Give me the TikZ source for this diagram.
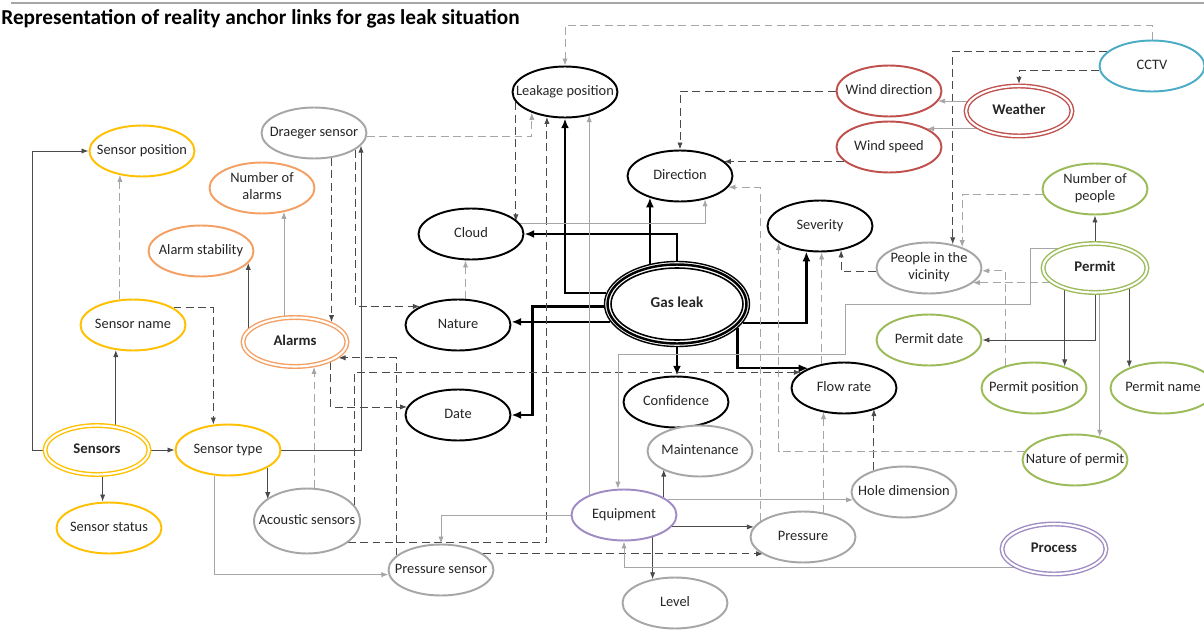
\documentclass[tikz,border=0pt]{standalone}
\usepackage{fontspec}
\setmainfont{Carlito}
\usetikzlibrary{shapes.geometric,arrows.meta,backgrounds}
\definecolor{cyel}{HTML}{FFC000}
\definecolor{corg}{RGB}{244,160,100}
\definecolor{cred}{HTML}{C0504D}
\definecolor{cblu}{HTML}{4BACC6}
\definecolor{cgrn}{HTML}{9BBB59}
\definecolor{cpur}{RGB}{160,140,195}
\definecolor{cgry}{HTML}{A6A6A6}
\definecolor{cdark}{HTML}{4A4A4A}
\definecolor{clight}{HTML}{A6A6A6}
\newcommand\lbl[1]{\makebox[0pt]{\begin{tabular}{@{}c@{}}#1\end{tabular}}}
\begin{document}
\begin{tikzpicture}[x=0.02cm,y=-0.02cm,
  nd/.style={ellipse, draw, fill=white, inner sep=0pt, line width=1.1pt,
    minimum width=2.1cm, minimum height=1.02cm,
    font=\fontsize{8.2}{9.6}\selectfont, text=black!85},
  nblk/.style={nd, draw=black},
  nyel/.style={nd, draw=cyel},
  norg/.style={nd, draw=corg},
  nred/.style={nd, draw=cred},
  nblu/.style={nd, draw=cblu},
  ngrn/.style={nd, draw=cgrn},
  ngry/.style={nd, draw=cgry},
  npur/.style={nd, draw=cpur},
  dbl/.style={double=white, double distance=1.2pt, line width=0.8pt, outer sep=1.2pt,
    minimum width=2.08cm, minimum height=0.98cm,
    font=\fontsize{8.4}{9.6}\selectfont\bfseries},
  gasst/.style={ellipse, draw=black, fill=white, inner sep=0pt, line width=0.8pt,
    minimum width=2.9cm, minimum height=1.7cm,
    font=\fontsize{8.6}{9.6}\selectfont\bfseries, text=black!85},
  ln/.style={line width=0.5pt, -{Latex[length=4pt,width=3pt]}},
  cd/.style={ln, draw=cdark},
  cl/.style={ln, draw=clight},
  dd/.style={ln, draw=cdark, dash pattern=on 4.5pt off 2.5pt},
  dl/.style={ln, draw=clight, dash pattern=on 4.5pt off 2.5pt},
  thk/.style={line width=1.3pt, draw=black, -{Latex[length=5.5pt,width=4.5pt]}},
]
\useasboundingbox (0,0) rectangle (1204,639);

% title
\node[anchor=base west, inner sep=0pt, font=\fontsize{12.1}{14}\selectfont\bfseries] (title) at (1,25)
  {Representation of reality anchor links for gas leak situation};
\draw[cgry, line width=0.6pt] (11,3) -- (1204,3);

% central nodes
\node[gasst] (gas) at (677,304) {\lbl{Gas leak}};
\draw[line width=1.4pt] (gas.center) ellipse [x radius=1.39cm, y radius=0.79cm];
\draw[line width=0.9pt] (gas.center) ellipse [x radius=1.32cm, y radius=0.72cm];
\node[nblk] (lpos) at (565,92) {\lbl{Leakage position}};
\node[nblk] (dir) at (680,176) {\lbl{Direction}};
\node[nblk] (cloud) at (471,234) {\lbl{Cloud}};
\node[nblk] (nature) at (458,325) {\lbl{Nature}};
\node[nblk] (date) at (458,415) {\lbl{Date}};
\node[nblk] (sev) at (820,226) {\lbl{Severity}};
\node[nblk] (conf) at (676,402) {\lbl{Confidence}};
\node[nblk] (flow) at (844,388) {\lbl{Flow rate}};

% equipment group
\node[ngry] (maint) at (700,451) {\lbl{Maintenance}};
\node[npur] (equip) at (624,515) {\lbl{Equipment}};
\node[ngry] (press) at (803,537) {\lbl{Pressure}};
\node[ngry] (hole) at (904,492) {\lbl{Hole dimension}};
\node[ngry] (level) at (675,603) {\lbl{Level}};
\node[ngry] (psens) at (441,570) {\lbl{Pressure sensor}};
\node[ngry, minimum height=1.3cm, minimum width=2.12cm] (acou) at (307,521) {\lbl{Acoustic sensors}};
\node[npur, dbl, minimum height=1.0cm] (process) at (1054,549) {\lbl{Process}};

% sensors group
\node[nyel, dbl] (sens) at (97,450) {\lbl{Sensors}};
\node[nyel] (stype) at (228,450) {\lbl{Sensor type}};
\node[nyel] (sstat) at (109,528) {\lbl{Sensor status}};
\node[nyel] (sname) at (133,325) {\lbl{Sensor name}};
\node[nyel] (spos) at (142,151) {\lbl{Sensor position}};
\node[ngry] (draeger) at (314,133) {\lbl{Draeger sensor}};

% alarms group
\node[norg] (nalarm) at (262,188) {\lbl{Number of\\alarms}};
\node[norg] (astab) at (201,251) {\lbl{Alarm stability}};
\node[norg, dbl] (alarms) at (295,342) {\lbl{Alarms}};

% weather group
\node[nred] (wdir) at (889,91) {\lbl{Wind direction}};
\node[nred] (wspd) at (889,147) {\lbl{Wind speed}};
\node[nred, dbl, minimum width=2.12cm, minimum height=1.0cm] (weather) at (1019,111) {\lbl{Weather}};
\node[nblu] (cctv) at (1152,66) {\lbl{CCTV}};

% permit group
\node[ngrn] (npeople) at (1095,189) {\lbl{Number of\\people}};
\node[ngry] (people) at (929,268) {\lbl{People in the\\vicinity}};
\node[ngrn, dbl] (permit) at (1095,268) {\lbl{Permit}};
\node[ngrn] (pdate) at (929,340) {\lbl{Permit date}};
\node[ngrn] (ppos) at (1034,388) {\lbl{Permit position}};
\node[ngrn] (pname) at (1163,388) {\lbl{Permit name}};
\node[ngrn] (nperm) at (1075,460) {\lbl{Nature of permit}};

\begin{pgfonlayer}{background}
\fill[white] (0,0) rectangle (1204,639);
% thick links from gas leak
\draw[thk] (gas.124) -- (gas.124 |- dir.-145);
\draw[thk] (gas.north) |- (cloud.east);
\draw[thk] (gas.171) -| (lpos.south);
\draw[thk] (gas.182) -- ++(-71.5,0) |- (date.east);
\draw[thk] (gas.195) -- (gas.195 -| nature.east);
\draw[thk] (gas.south) -- (gas.south |- conf.north);
\draw[thk] (gas.-16) -| (sev.-118);
\draw[thk] (gas.-22) |- (flow.151);

% dark dashed
\draw[dd] (lpos.-168) -- (lpos.-168 |- cloud.15);
\draw[dd] (acou.-28) -| (lpos.-126);
\draw[dd] (wdir.west) -| (dir.north);
\draw[dd] (wspd.-162) -- (wspd.-162 -| dir.19);
\draw[dd] (draeger.-55) -- (draeger.-55 |- alarms.29);
\draw[dd] (draeger.-22) |- (nature.154);
\draw[dd] (psens.162) |- (alarms.-20);
\draw[dd] (psens.21) -- (psens.21 -| press.-156);
\draw[dd] (alarms.-29) |- (date.171);
\draw[dd] (acou.19) |- (flow.160);
\draw[dd] (sname.23) -| (stype.120);
\draw[dd] (people.-176) -| (sev.-49);
\draw[dd] (cctv.162) -| (people.45);
\draw[dd] (cctv.-175) -| (weather.north);
\draw[dd] (hole.144) -- (hole.144 |- flow.-33);

% light dashed
\draw[dl] (draeger.-4) -| (lpos.-148);
\draw[dl] (cctv.north) -- ++(0,-14) -| (lpos.north);
\draw[dl] (press.160) |- (dir.-13);
\draw[dl] (nature.74) -- (nature.74 |- cloud.south);
\draw[dl] (acou.78) -- (acou.78 |- alarms.-53);
\draw[dl] (sname.117) -- (sname.117 |- spos.-134);
\draw[dl] (permit.-162) -- (permit.-162 -| people.-19);
\draw[dl] (ppos.142) |- (people.-3);
\draw[dl] (npeople.-174) -| (people.32);
\draw[dl] (flow.133) -- (flow.133 |- sev.-83);
\draw[dl] (press.50) -- (press.50 |- flow.-133);
\draw[dl] (nperm.170) -| (sev.-158);

% dark solid
\draw[cd] (stype.east) -| (draeger.-15);
\draw[cd] (alarms.164) -- (alarms.164 |- astab.-14);
\draw[cd] (sens.west) -- ++(-10,0) |- (spos.west);
\draw[cd] (sens.53) -- (sens.53 |- sname.-125);
\draw[cd] (sens.east) -- (stype.west);
\draw[cd] (sens.-78) -- (sens.-78 |- sstat.north);
\draw[cd] (stype.-24) -- (stype.-24 |- acou.152);
\draw[cd] (equip.24) -- (equip.24 |- maint.-154);
\draw[cd] (equip.-14) -- (equip.-14 -| press.168);
\draw[cd] (equip.-38) -- (equip.-38 |- level.135);
\draw[cd] (permit.north) -- (npeople.south);
\draw[cd] (permit.south) |- (pdate.east);
\draw[cd] (permit.-144) -- (permit.-144 |- ppos.35);
\draw[cd] (permit.-31) -- (permit.-31 |- pname.149);

% light solid
\draw[cl] (equip.150) -- (equip.150 |- lpos.-41);
\draw[cl] (cloud.12) -| (dir.-43);
\draw[cl] (alarms.113) -- (alarms.113 |- nalarm.-46);
\draw[cl] (stype.-118) |- (psens.-175);
\draw[cl] (equip.west) -| (psens.north);
\draw[cl] (equip.19) -- (equip.19 -| hole.-171);
\draw[cl] (process.-156) -| (equip.south);
\draw[cl] (permit.151) -- ++(-29,0) -- ++(0,56) -- ++(-185,0) -- ++(0,50) -| (equip.103);
\draw[cl] (permit.-80) -- (permit.-80 |- nperm.42);
\draw[cl] (weather.169) -- (weather.169 -| wdir.-12);
\draw[cl] (weather.-157) -- (weather.-157 -| wspd.26);
\end{pgfonlayer}
\end{tikzpicture}
\end{document}
